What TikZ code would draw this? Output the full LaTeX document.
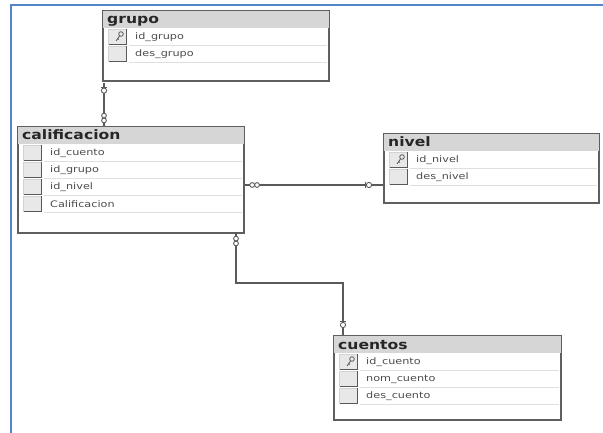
\documentclass[tikz,border=0pt]{standalone}
\usepackage{fontspec}
\usetikzlibrary{calc}
\setmainfont{DejaVu Sans}
\newfontfamily\rowfont[FakeStretch=1.25]{DejaVu Sans}
\newfontfamily\headfont[FakeStretch=1.2]{DejaVu Sans Bold}
\definecolor{framblue}{RGB}{84,132,200}
\definecolor{boxline}{RGB}{95,95,95}
\definecolor{headfill}{RGB}{214,214,214}
\definecolor{relline}{RGB}{90,90,90}

\tikzset{
  tablebox/.style={draw=boxline, line width=1.6pt, fill=white, rectangle, inner sep=0pt},
  headfill/.style={fill=headfill},
  headtext/.style={font=\headfont\fontsize{13}{13}\selectfont, text=black!85, inner sep=0pt},
  rowtext/.style={font=\rowfont\fontsize{9}{9}\selectfont, text=black!70, inner sep=0pt},
  iconbox/.style={fill=gray!18, draw=gray!35, line width=0.5pt},
  iconedge/.style={draw=black!65, line width=1pt},
  rowrule/.style={draw=gray!25, line width=0.5pt},
  keyglyph/.style={draw=black!65, line width=0.8pt},
  rel/.style={draw=relline, line width=2pt},
  relsym/.style={draw=relline, line width=0.9pt, fill=white},
}

% table: name, x, y, width, height, title
\newcommand\dbtable[6]{%
  \node[tablebox, minimum width=#4pt, minimum height=#5pt, anchor=north west] (#1) at (#2,#3) {};
  \fill[headfill] ([shift={(1pt,-1pt)}]#1.north west) rectangle ([shift={(-1pt,-18pt)}]#1.north east);
  \node[headtext, anchor=base west] (#1-title) at ([shift={(5pt,-14pt)}]#1.north west) {#6};
}
% row: table, index, text, key flag
\newcommand\dbrow[4]{%
  \coordinate (#1-r#2) at ([yshift={-(27+17*#2)*1pt}]#1.north west);
  \coordinate (#1-e#2) at (#1-r#2 -| #1.east);
  \filldraw[iconbox] ([shift={(6pt,7.5pt)}]#1-r#2) rectangle ([shift={(24pt,-7.5pt)}]#1-r#2);
  \draw[iconedge] ([shift={(24pt,8pt)}]#1-r#2) -- ([shift={(24pt,-7.5pt)}]#1-r#2) -- ([shift={(7pt,-7.5pt)}]#1-r#2);
  \draw[rowrule] ([shift={(27pt,-8.5pt)}]#1-r#2) -- ([shift={(-3pt,-8.5pt)}]#1-e#2);
  \node[rowtext, anchor=west] (#1-f#2) at ([xshift=33pt]#1-r#2) {#3};
  \ifnum#4=1
    \draw[keyglyph] ([shift={(19pt,3pt)}]#1-r#2) circle (2.3pt);
    \draw[keyglyph] ([shift={(17.5pt,1pt)}]#1-r#2) -- ([shift={(14pt,-4pt)}]#1-r#2)
                    ([shift={(15.5pt,-1.5pt)}]#1-r#2) -- ([shift={(17pt,-2.5pt)}]#1-r#2);
  \fi
}
% key end of a relationship: circle with a cross tick
\newcommand\relkey[2]{% coordinate, rotation
  \begin{scope}[shift={(#1)}, rotate=#2]
    \draw[relsym] (0,0) circle (2.6pt);
    \draw[relsym] (3.5pt,-3pt) -- (3.5pt,3pt);
  \end{scope}
}
% many end of a relationship: two small circles
\newcommand\relmany[2]{%
  \begin{scope}[shift={(#1)}, rotate=#2]
    \draw[relsym] (-2.4pt,0) circle (2.4pt);
    \draw[relsym] (2.4pt,0) circle (2.4pt);
  \end{scope}
}

\begin{document}
\begin{tikzpicture}[x=1pt,y=-1pt]
  \useasboundingbox[fill=white] (0,0) rectangle (603,433);

  % outer frame
  \draw[framblue, line width=2pt] (11,433) -- (11,5) -- (603,5);

  % tables
  \dbtable{grupo}{102}{10}{226}{70}{grupo}
  \dbrow{grupo}{0}{id\_grupo}{1}
  \dbrow{grupo}{1}{des\_grupo}{0}

  \dbtable{calificacion}{17}{126}{226}{106}{calificacion}
  \dbrow{calificacion}{0}{id\_cuento}{0}
  \dbrow{calificacion}{1}{id\_grupo}{0}
  \dbrow{calificacion}{2}{id\_nivel}{0}
  \dbrow{calificacion}{3}{Calificacion}{0}

  \dbtable{nivel}{383}{133}{215}{69}{nivel}
  \dbrow{nivel}{0}{id\_nivel}{1}
  \dbrow{nivel}{1}{des\_nivel}{0}

  \dbtable{cuentos}{333}{335}{227}{84}{cuentos}
  \dbrow{cuentos}{0}{id\_cuento}{1}
  \dbrow{cuentos}{1}{nom\_cuento}{0}
  \dbrow{cuentos}{2}{des\_cuento}{0}

  % relationship anchors
  \coordinate (g-top) at ([xshift=2pt,yshift=-1pt]grupo.south west);
  \coordinate (g-bot) at (g-top |- calificacion.north);
  \coordinate (n-left) at (calificacion.east |- 0,185);
  \coordinate (n-right) at (nivel.west |- 0,185);
  \coordinate (c-top) at (236,232);
  \coordinate (c-bend1) at (236,283);
  \coordinate (c-bend2) at (343,283);
  \coordinate (c-bot) at (c-bend2 |- cuentos.north);

  % relationship lines
  \draw[rel] (g-top) -- (g-bot);
  \draw[rel] (n-left) -- (n-right);
  \draw[rel] (c-top) -- (c-bend1) -- (c-bend2) -- (c-bot);

  % relationship end symbols
  \relkey{$(g-top)+(0,8)$}{90}
  \relmany{$(g-bot)+(0,-8)$}{90}
  \relmany{$(n-left)+(10,0)$}{0}
  \relkey{$(n-right)+(-14,0)$}{180}
  \relmany{$(c-top)+(0,9)$}{90}
  \relkey{$(c-bot)+(0,-10)$}{90}
\end{tikzpicture}
\end{document}
